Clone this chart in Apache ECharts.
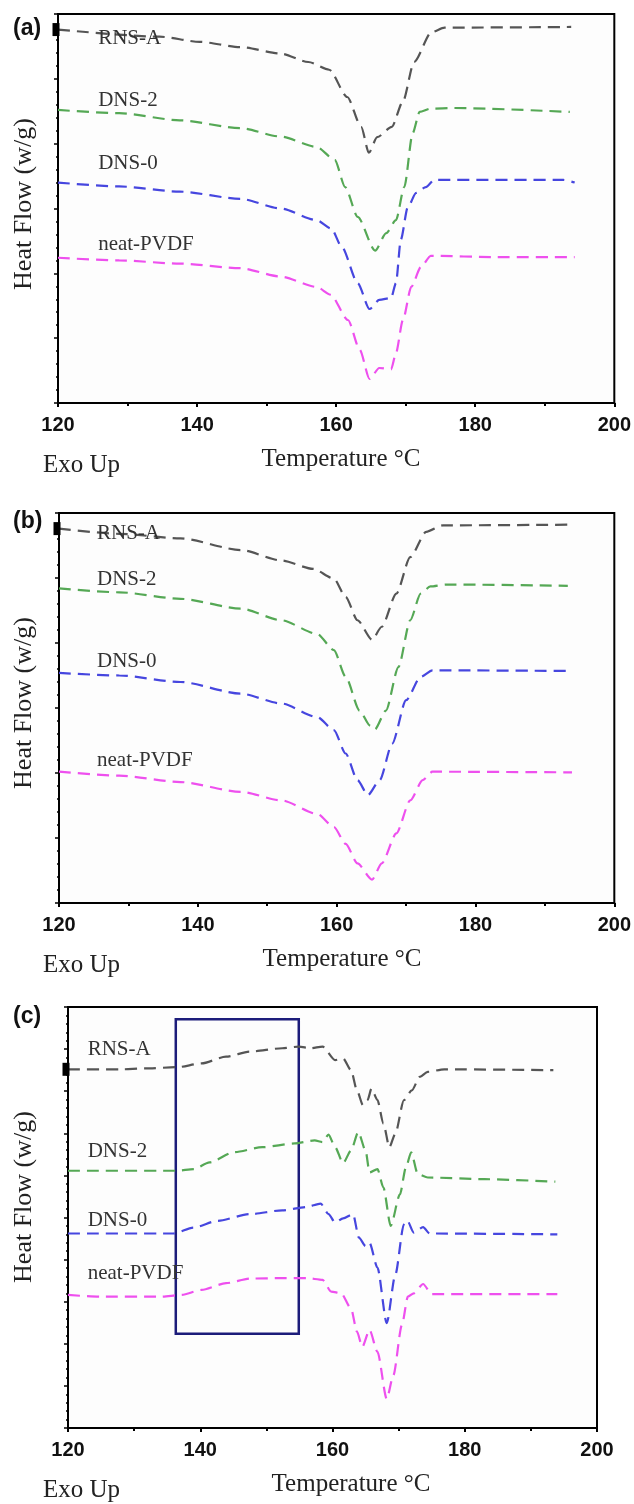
<!DOCTYPE html>
<html>
<head>
<meta charset="utf-8">
<script src="https://cdn.jsdelivr.net/npm/echarts@6/dist/echarts.min.js"></script>
<style>
html,body{margin:0;padding:0;background:#fff;}
#chart{width:634px;height:1504px;}
</style>
</head>
<body>
<div id="chart"></div>
<script>
// ---------- DATA ----------
const seriesNames = ['RNS-A', 'DNS-2', 'DNS-0', 'neat-PVDF'];
const xTicks = [120, 140, 160, 180, 200];

// Panel (a)  [temperature °C, heat flow (arb. units)]
const aRNSA = [[120,57.6],[134.6,56.5],[140.4,55.7],[146.2,54.9],[152,53.9],[156,52.6],[159,51.4],[161.6,47.2],[163.6,42.6],[164.7,38.6],[165.9,41.0],[168,42.6],[169.6,46.5],[171.2,52.6],[173.7,57.2],[175.6,57.9],[193.8,58.0]];
const aDNS2 = [[120,45.2],[128.8,44.7],[137.5,43.6],[146.2,42.4],[152,41.1],[157.2,39.5],[159.8,37.5],[161.3,33.3],[163.1,28.7],[165.6,23.5],[167.2,26.2],[168.6,28.2],[169.8,33.3],[171,41.6],[172,44.9],[173.6,45.4],[177,45.5],[193.6,44.9]];
const aDNS0 = [[120,34.0],[128.8,33.4],[137.5,32.6],[146.2,31.5],[152,30.0],[157.2,28.2],[159.3,26.9],[160.8,24.1],[163.1,18.5],[164.8,14.5],[166.2,15.9],[167.9,16.2],[168.6,18.5],[169.3,25.2],[170.3,30.2],[171.5,32.4],[172.9,33.3],[174.1,34.4],[192.7,34.4],[194.3,34.0]];
const aNeat = [[120,22.4],[128.8,22.0],[137.5,21.5],[146.2,20.8],[152,19.5],[157.2,17.9],[159.2,16.7],[161.7,12.8],[163.4,8.2],[164.8,3.7],[166.2,5.4],[167.9,5.2],[168.6,7.7],[169.6,12.8],[170.8,17.9],[172.2,21.0],[173.6,22.7],[183.1,22.5],[194.3,22.5]];

// Panel (b)
const bRNSA = [[120,57.6],[128.7,56.8],[137.5,56.1],[146.2,54.3],[152,52.7],[156.6,51.4],[159.6,49.9],[161.3,47.1],[163,43.5],[165.1,40.5],[166.5,42.5],[168.6,47.6],[170.6,53.2],[172.9,57.1],[175.3,58.1],[193.6,58.2]];
const bDNS2 = [[120,48.4],[128.7,47.8],[137.5,46.8],[146.2,45.3],[152,43.5],[157.2,41.4],[159.6,38.9],[161.3,34.8],[163.3,29.6],[164.8,27.3],[165.5,26.7],[167.1,29.6],[168.9,36.3],[170.6,43.5],[172.1,47.6],[173.5,48.7],[175.8,49.0],[193.3,48.8]];
const bDNS0 = [[120,35.4],[128.7,35.0],[137.5,34.0],[146.2,32.2],[152,30.7],[157.2,28.6],[159.6,26.6],[161.3,23.0],[163,18.9],[164.5,16.6],[166.2,18.9],[168,24.5],[170,31.2],[172.1,34.8],[173.8,35.8],[193.9,35.7]];
const bNeat = [[120,20.2],[128.7,19.6],[137.5,18.6],[146.2,17.1],[152,15.8],[157.2,13.7],[159.6,11.7],[161.3,9.1],[163,6.1],[165.1,3.6],[166.5,6.1],[168.6,10.7],[170.6,15.8],[172.4,18.9],[173.8,20.2],[193.9,20.1]];

// Panel (c)
const cRNSA = [[120,85.2],[128,85.2],[131.6,85.4],[136.5,85.7],[140.2,86.6],[143.9,88.2],[147.5,89.4],[152.4,90.2],[154.9,90.6],[156.7,90.2],[158.5,90.6],[160.4,87.4],[161.6,87.8],[162.8,85.0],[163.7,80.2],[164.6,76.7],[165.3,77.9],[165.9,80.6],[166.8,77.9],[167.7,72.3],[168.6,66.7],[169.5,69.9],[170.8,77.9],[172,80.2],[173.2,83.4],[174.4,84.6],[176.9,85.2],[193.4,85.0]];
const cDNS2 = [[120,61.1],[136.5,61.1],[139,61.5],[141.4,63.1],[145.1,65.5],[149.4,66.7],[154.3,67.6],[157.3,68.3],[158.5,67.9],[159.4,69.7],[160.4,66.7],[161.6,62.9],[162.8,65.9],[163.9,70.3],[165,65.9],[165.6,60.7],[166.8,61.5],[167.7,57.1],[168.8,48.0],[170.2,55.5],[171.1,61.9],[171.9,65.5],[172.9,60.3],[174.4,59.5],[183,59.1],[193.7,58.5]];
const cDNS0 = [[120,46.2],[135.9,46.2],[139,47.6],[142.6,49.2],[147.5,50.8],[152.4,51.7],[156.1,52.5],[158.2,53.3],[159.4,50.8],[160.4,48.8],[161.6,49.8],[163.1,50.8],[164,45.2],[165,43.2],[165.6,44.0],[166.8,38.1],[168.2,24.9],[169.5,36.4],[170.8,48.4],[171.3,49.3],[172.3,46.4],[173.7,47.7],[174.7,46.2],[194,46.0]];
const cNeat = [[120,31.6],[124.9,31.2],[134.1,31.2],[137.1,31.6],[140.2,32.8],[143.9,34.4],[147.5,35.5],[152.4,35.6],[156.1,35.6],[158.5,35.2],[159.8,32.4],[161.3,32.0],[162.8,28.4],[163.7,22.9],[164.5,19.3],[165.6,23.3],[166.8,18.1],[168.2,6.9],[169.2,12.5],[170.5,24.5],[171.4,31.2],[172.3,32.0],[173.7,34.2],[175,31.8],[194,31.8]];

// Highlight box in panel (c): [T1, top], [T2, bottom]
const cBox = [[136.3, 97.1], [154.9, 22.4]];

// ---------- STYLE / LAYOUT ----------
const SERIF = '"Liberation Serif","DejaVu Serif",serif';
const SANS = '"Liberation Sans",Arial,sans-serif';
const colors = ['#555555', '#55a855', '#4646df', '#ee50ee'];

const panels = [
  {grid:{left:58, top:14, width:560, height:389}, ymax:60, data:[aRNSA,aDNS2,aDNS0,aNeat],
   labels:[[125.7,56.3],[125.7,46.6],[125.7,37.0],[125.7,24.4]], tag:'(a)', tagY:30},
  {grid:{left:59, top:513, width:559, height:390}, ymax:60, data:[bRNSA,bDNS2,bDNS0,bNeat],
   labels:[[125.4,56.8],[125.4,49.7],[125.4,37.1],[125.4,22.0]], tag:'(b)', tagY:523},
  {grid:{left:68, top:1007, width:529, height:421}, ymax:100, data:[cRNSA,cDNS2,cDNS0,cNeat],
   labels:[[122.9,90.0],[122.9,65.6],[122.9,49.4],[122.9,36.8]], tag:'(c)', tagY:1018}
];

const grids = [], xAxes = [], yAxes = [], series = [], graphics = [];
panels.forEach((p, i) => {
  grids.push(Object.assign({show:true, borderColor:'#000', borderWidth:2, backgroundColor:'#fdfdfd'}, p.grid));
  xAxes.push({
    type:'value', gridIndex:i, min:xTicks[0], max:xTicks[xTicks.length-1], interval:20,
    axisLine:{show:true, onZero:false, lineStyle:{color:'#000', width:2}},
    axisTick:{show:true, length:4, lineStyle:{color:'#000', width:2}},
    minorTick:{show:true, splitNumber:2, length:3, lineStyle:{color:'#000', width:2}},
    splitLine:{show:false},
    axisLabel:{show:true, margin:12, color:'#111', fontFamily:SANS, fontWeight:'bold', fontSize:20}
  });
  yAxes.push({
    type:'value', gridIndex:i, min:0, max:p.ymax, interval:10,
    axisLine:{show:true, onZero:false, lineStyle:{color:'#000', width:2}},
    axisTick:{show:true, length:4, lineStyle:{color:'#000', width:1.5}},
    minorTick:{show:true, splitNumber:5, length:2, lineStyle:{color:'#000', width:1.5}},
    splitLine:{show:false},
    axisLabel:{show:false}
  });
  p.data.forEach((d, k) => {
    const s = {
      type:'line', name:seriesNames[k], xAxisIndex:i, yAxisIndex:i, data:d,
      showSymbol:false, smooth:0.25, smoothMonotone:'x',
      lineStyle:{color:colors[k], width:2.2, type:[12,7]},
      itemStyle:{color:colors[k]},
      z: 3,
      markPoint:{
        silent:true, animation:false,
        data:[{
          coord:p.labels[k], symbol:'circle', symbolSize:1,
          itemStyle:{color:'rgba(0,0,0,0)'},
          label:{show:true, position:'right', distance:0, formatter:seriesNames[k],
                 color:'#333', fontFamily:SERIF, fontSize:21}
        }]
      }
    };
    if (k === 0 && i < 3) {
      s.markPoint.data.push({
        coord:[xTicks[0], d[0][1]], symbol:'rect', symbolSize:[7,13], symbolOffset:[-2,0],
        itemStyle:{color:'#000'}, label:{show:false}
      });
    }
    if (i === 2 && k === 0) {
      s.markArea = {
        silent:true,
        itemStyle:{color:'rgba(0,0,0,0)', borderColor:'#1c1c7a', borderWidth:2.5},
        data:[[{coord:cBox[0]}, {coord:cBox[1]}]]
      };
    }
    series.push(s);
  });
  const g = p.grid;
  const bottom = g.top + g.height;
  graphics.push({type:'text', left:13, top:p.tagY - 13, style:{text:p.tag, font:'bold 23px '+SANS, fill:'#111'}});
  graphics.push({type:'text', x:43, y:bottom + 62, style:{text:'Exo Up', font:'25px '+SERIF, fill:'#222', textVerticalAlign:'middle'}});
  graphics.push({type:'text', x:g.left + 283, y:bottom + 56, style:{text:'Temperature °C', font:'25px '+SERIF, fill:'#222', textAlign:'center', textVerticalAlign:'middle'}});
  graphics.push({type:'text', x:24, y:g.top + 190, rotation:Math.PI/2, style:{text:'Heat Flow (w/g)', font:'26px '+SERIF, fill:'#222', textAlign:'center', textVerticalAlign:'middle'}});
});

const chart = echarts.init(document.getElementById('chart'), null, {renderer:'canvas'});
chart.setOption({
  animation:false,
  backgroundColor:'#ffffff',
  grid:grids, xAxis:xAxes, yAxis:yAxes, series:series, graphic:graphics
});
</script>
</body>
</html>
